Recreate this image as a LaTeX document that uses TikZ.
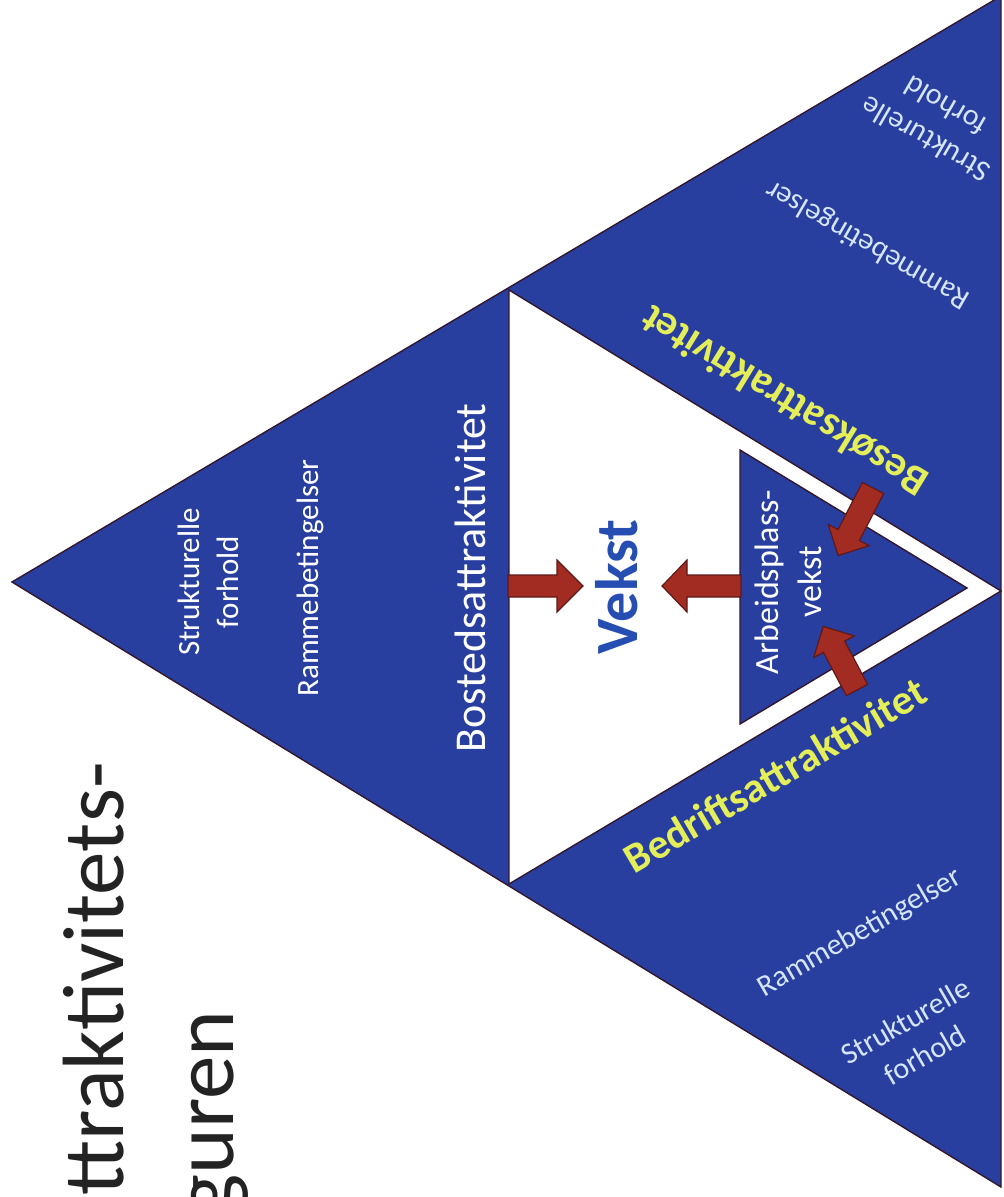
\documentclass[tikz,border=0pt]{standalone}
\usepackage{fontspec}
\setmainfont{Carlito}
\definecolor{triblue}{RGB}{41,63,160}
\definecolor{edgecol}{RGB}{50,22,45}
\definecolor{arrowred}{RGB}{163,44,34}
\definecolor{arrowedge}{RGB}{95,25,25}
\definecolor{vekstblue}{RGB}{38,78,178}
\definecolor{labelyellow}{RGB}{228,238,88}
\definecolor{lightlabel}{RGB}{214,230,250}
\definecolor{titlegray}{RGB}{35,35,35}
\newcommand\myblockarrow[7]{% tail, angle, length, shaft half, head half, head length, name
  \begin{scope}[shift={(#1)}, rotate=#2]
    \draw[blockarrow] (0,-#4) -- ({#3-#6},-#4) -- ({#3-#6},-#5) -- (#3,0) coordinate (#7)
      -- ({#3-#6},#5) -- ({#3-#6},#4) -- (0,#4) -- cycle;
  \end{scope}}
\begin{document}
\begin{tikzpicture}[x=0.5pt,y=-0.5pt,
  tri/.style={fill=triblue, draw=edgecol, line width=0.7pt, line join=miter},
  hole/.style={fill=white, draw=edgecol, line width=0.7pt, line join=miter},
  blockarrow/.style={fill=arrowred, draw=arrowedge, line width=0.6pt, line join=miter},
  titletext/.style={rotate=90, anchor=base east, text=titlegray, inner sep=0pt,
    font=\fontsize{43.5}{52}\selectfont},
  smalllabel/.style={text=white, inner sep=0pt, align=center,
    font=\fontsize{15.5}{19.5}\selectfont},
  lightsmall/.style={text=lightlabel, inner sep=0pt, align=center,
    font=\fontsize{15}{19.5}\selectfont},
  attrlabel/.style={text=labelyellow, inner sep=0pt,
    font=\bfseries\fontsize{21}{25}\selectfont}
]
\useasboundingbox (0,0) rectangle (1004,1197);
\clip (0,0) rectangle (1004,1197);

% title
\node[titletext] (title1) at (123,762) {ttraktivitets-};
\node[titletext] (title2) at (233,1010) {guren};

% triangles
\coordinate (A) at (12,582);
\coordinate (B) at (1001,-4);
\coordinate (C) at (1001,1187);
\coordinate (P) at (509,290);
\coordinate (Q) at (509,884);
\coordinate (R) at (1001,591);
\draw[tri] (A) -- (B) -- (C) -- cycle;
\draw[hole] (P) -- (R) -- (Q) -- cycle;
\draw[tri] (740,450) coordinate (S1) -- (967,588) coordinate (S2) -- (740,724) coordinate (S3) -- cycle;

% arrows
\myblockarrow{508,586}{0}{75}{11}{26}{26}{tipA}
\myblockarrow{741,586}{180}{79}{11}{26}{25}{tipB}
\myblockarrow{873,488}{242.7}{76}{12}{23}{23}{tipC}
\myblockarrow{857,690}{118}{72}{12}{23}{23}{tipD}

% left triangle
\node[smalllabel, rotate=90] (strukL) at (208,582) {Strukturelle\\forhold};
\node[smalllabel, rotate=90, anchor=base] (rammeL) at (318,578) {Rammebetingelser};
\node[text=white, inner sep=0pt, rotate=90, anchor=base,
  font=\fontsize{22}{26}\selectfont] (bost) at (485,578) {Bostedsattraktivitet};

% centre
\node[text=vekstblue, inner sep=0pt, rotate=90, anchor=base,
  font=\bfseries\fontsize{30}{36}\selectfont] (vekst) at (637,587) {Vekst};
\node[text=white, inner sep=0pt, align=center, rotate=90,
  font=\fontsize{17}{21.5}\selectfont] (arbeid) at (788,582) {Arbeidsplass-\\vekst};

% upper right triangle
\node[attrlabel, rotate=148.5] (besok) at (784,401) {Besøksattraktivitet};
\node[lightsmall, rotate=150] (rammeT) at (868,244) {Rammebetingelser};
\node[lightsmall, rotate=150] (strukT) at (935,123) {Strukturelle\\forhold};

% lower right triangle
\node[attrlabel, rotate=30.5] (bedrift) at (775,775) {Bedriftsattraktivitet};
\node[lightsmall, rotate=30] (rammeB) at (860,933) {Rammebetingelser};
\node[lightsmall, rotate=30] (strukB) at (915,1038) {Strukturelle\\forhold};
\end{tikzpicture}
\end{document}
